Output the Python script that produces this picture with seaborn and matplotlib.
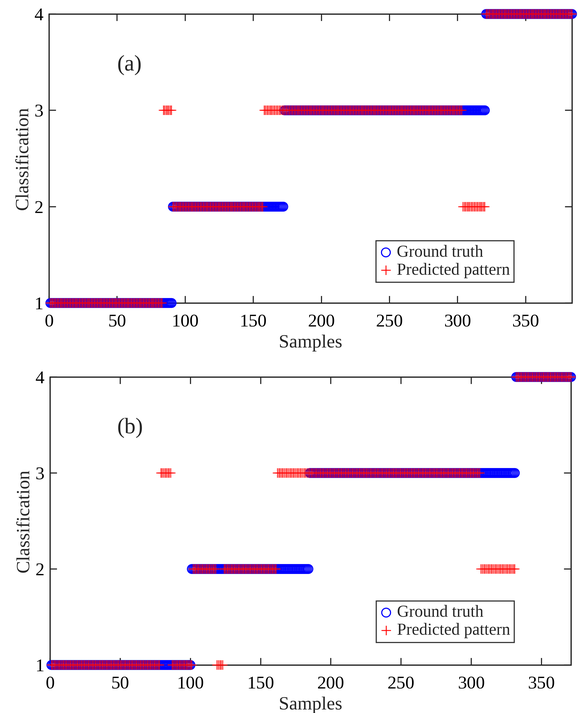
import io
import numpy as np
import pandas as pd
import matplotlib
matplotlib.use("Agg")
import matplotlib.pyplot as plt
import seaborn as sns
from PIL import Image

# ---- data: step series as (first sample, last sample, class) runs ----
gt_a_runs = [(1, 90, 1), (91, 172, 2), (173, 320, 3), (321, 384, 4)]
pred_a_runs = [(1, 83, 1), (84, 90, 3), (91, 157, 2), (158, 303, 3), (304, 320, 2), (321, 384, 4)]

gt_b_runs = [(1, 100, 1), (101, 184, 2), (185, 331, 3), (332, 371, 4)]
pred_b_runs = [(1, 78, 1), (79, 86, 3), (87, 101, 1), (102, 118, 2), (119, 123, 1),
               (124, 161, 2), (162, 306, 3), (307, 331, 2), (332, 371, 4)]

panel_labels = ["(a)", "(b)"]
x_limits = [384, 371]
x_ticks = [0, 50, 100, 150, 200, 250, 300, 350]
y_ticks = [1, 2, 3, 4]
legend_labels = ["Ground truth", "Predicted pattern"]


def expand(runs):
    xs, ys = [], []
    for s, e, c in runs:
        n = np.arange(s, e + 1)
        xs.append(n)
        ys.append(np.full(len(n), c))
    return pd.DataFrame({"Samples": np.concatenate(xs), "Classification": np.concatenate(ys)})


sns.set_style("ticks")
plt.rcParams["font.family"] = ["Liberation Serif", "DejaVu Serif"]

W, H = 578, 713
fig = plt.figure(figsize=(W / 100, H / 100), dpi=100)
positions = [
    [49 / W, 1 - 303 / H, (572 - 49) / W, (303 - 14) / H],
    [50 / W, 1 - 665 / H, (571 - 50) / W, (665 - 377) / H],
]
legend_anchor = [(0.625, 0.215), (0.626, 0.222)]

panels = [(gt_a_runs, pred_a_runs), (gt_b_runs, pred_b_runs)]
for i, (gt_runs, pred_runs) in enumerate(panels):
    ax = fig.add_axes(positions[i])
    gt = expand(gt_runs)
    pr = expand(pred_runs)
    sns.scatterplot(data=gt, x="Samples", y="Classification", ax=ax, marker="o", s=40,
                    facecolors="none", edgecolor="blue", linewidth=0.8,
                    label=legend_labels[0], clip_on=False, zorder=3)
    sns.scatterplot(data=pr, x="Samples", y="Classification", ax=ax, marker="+", s=45,
                    color="red", linewidth=0.65, alpha=0.9,
                    label=legend_labels[1], clip_on=False, zorder=4)
    ax.set_xlim(0, x_limits[i])
    ax.set_ylim(1, 4)
    ax.set_xticks(x_ticks)
    ax.set_yticks(y_ticks)
    ax.tick_params(direction="in", length=5, width=0.8, top=True, right=True,
                   labelsize=13, colors="#262626", labelcolor="black")
    ax.tick_params(axis="x", pad=8)
    ax.tick_params(axis="y", pad=4)
    for sp in ax.spines.values():
        sp.set_visible(True)
        sp.set_linewidth(0.9)
        sp.set_color("#262626")
    ax.set_xlabel("Samples", fontsize=13.5, labelpad=3)
    ax.set_ylabel("Classification", fontsize=13.5, labelpad=2)
    ax.text(59 if i == 0 else 57, 3.47, panel_labels[i], fontsize=16,
            ha="center", va="center")
    leg = ax.legend(loc="upper left", bbox_to_anchor=legend_anchor[i], fontsize=12,
                    frameon=True, fancybox=False, edgecolor="black",
                    handlelength=0.7, handletextpad=0.3, borderpad=0.25,
                    labelspacing=0.15, borderaxespad=0)
    leg.get_frame().set_linewidth(0.8)
    for h in leg.legend_handles:
        h.set_alpha(1)

# render at 4x and downsample for smooth blending of the dense markers
buf = io.BytesIO()
fig.savefig(buf, dpi=400, format="png")
buf.seek(0)
img = Image.open(buf).convert("RGB").resize((W, H), Image.LANCZOS)
img.save("out.png", dpi=(100, 100))
